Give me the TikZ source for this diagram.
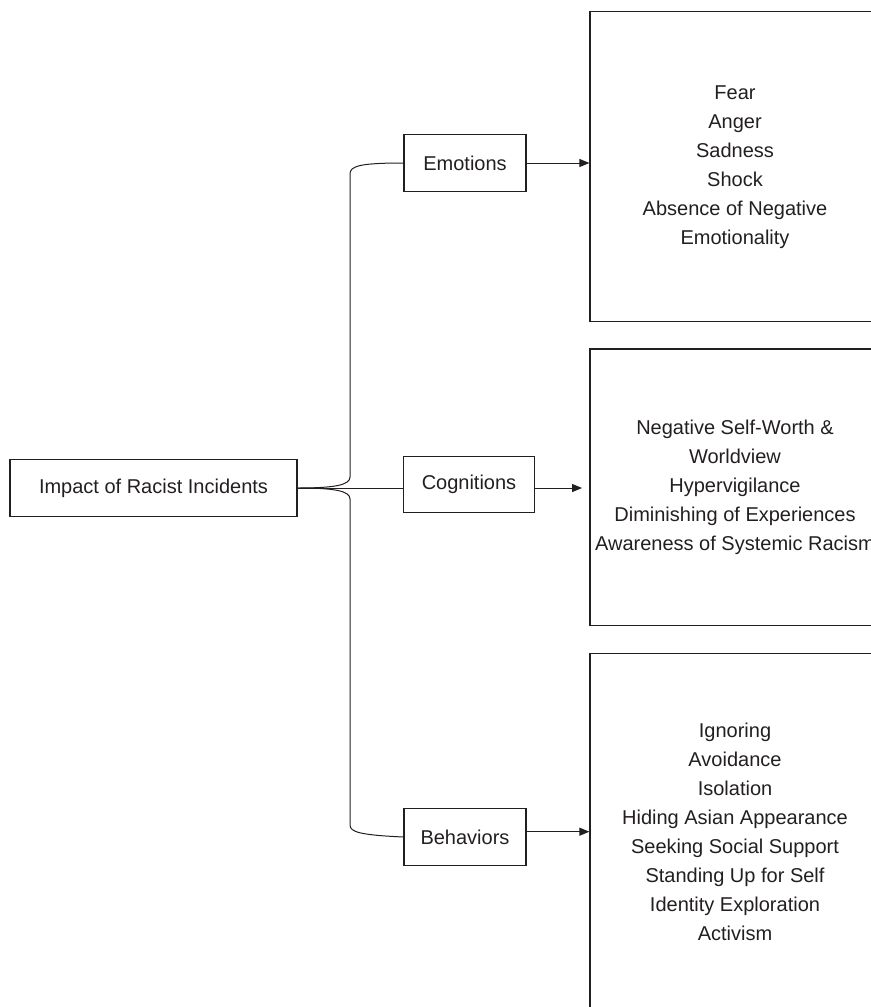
\documentclass[tikz,border=0pt]{standalone}
\usepackage{fontspec}
\setmainfont{Liberation Sans}
\usetikzlibrary{arrows.meta,positioning,calc}
\definecolor{ink}{HTML}{231F20}

\begin{document}
\begin{tikzpicture}[x=0.75pt, y=-0.75pt, >={Triangle[length=7.5pt,width=6pt]},
  font=\fontsize{15}{21.75}\selectfont, text=ink,
  box/.style={draw=ink, line width=0.9pt, inner sep=0pt, align=center},
  link/.style={draw=ink, line width=0.75pt},
  arr/.style={link, ->}]
  % frame (the lists run off the right and bottom edge)
  \path[use as bounding box, clip] (0,0) rectangle (871,1007);

  % nodes
  \node[box, minimum width=215.25pt, minimum height=43pt] (impact) at (153.5,488) {Impact of Racist Incidents};
  \node[box, minimum width=91.5pt, minimum height=42.75pt] (emo) at (465,163) {Emotions};
  \node[box, minimum width=98.25pt, minimum height=42.5pt] (cog) at (469,484.5) {Cognitions};
  \node[box, minimum width=91.5pt, minimum height=42.75pt] (beh) at (465,837) {Behaviors};

  % outcome lists
  \node[box, minimum width=217.5pt, minimum height=232.5pt] (emolist) at (735,166.7)
    {Fear\\Anger\\Sadness\\Shock\\Absence of Negative\\Emotionality};
  \node[box, minimum width=217.5pt, minimum height=207.5pt] (coglist) at (735,487.3)
    {Negative Self-Worth \&\\Worldview\\Hypervigilance\\Diminishing of Experiences\\Awareness of Systemic Racism};
  \node[box, minimum width=217.5pt, minimum height=267.75pt] (behlist) at (735,831.7)
    {Ignoring\\Avoidance\\Isolation\\Hiding Asian Appearance\\Seeking Social Support\\Standing Up for Self\\Identity Exploration\\Activism};

  % brace from the main box
  \draw[link] (impact.east) .. controls (335,488) and (350,485) .. (350,477)
    -- (350,174) .. controls (350,166) and (360,163) .. (emo.west);
  \draw[link] (impact.east) -- (impact.east -| cog.west);
  \draw[link] (impact.east) .. controls (335,488) and (350,491) .. (350,499)
    -- (350,825) .. controls (350,832) and (360,835) .. (beh.west);

  % arrows to the lists
  \draw[arr] (emo.east) -- (emo.east -| emolist.west);
  \draw[arr, shorten >=5.5pt] (impact.east -| cog.east) -- (impact.east -| coglist.west);
  \draw[arr] (beh.east |- behlist.west) -- (behlist.west);
\end{tikzpicture}
\end{document}
